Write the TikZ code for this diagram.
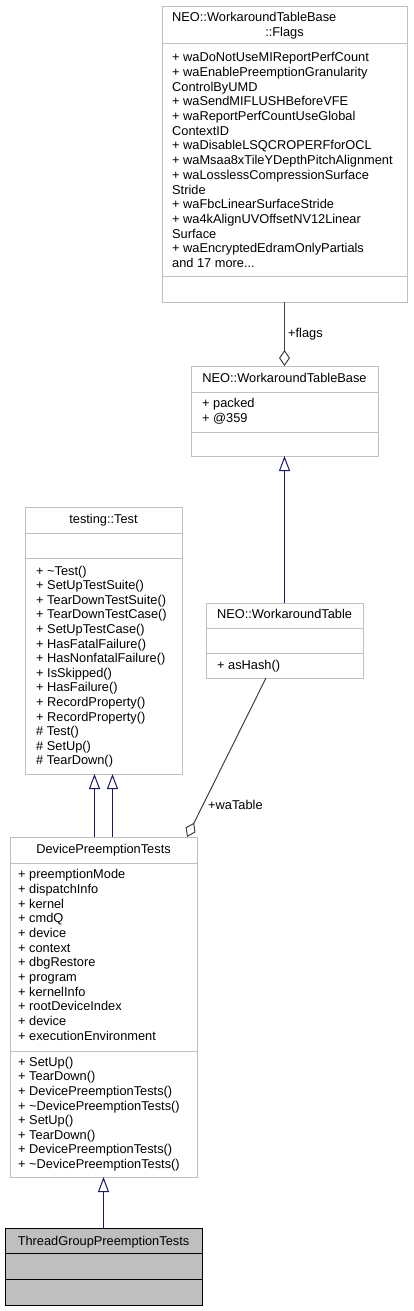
\documentclass[tikz,border=0pt]{standalone}
\usepackage{fontspec}
\setmainfont{Liberation Sans}
\usetikzlibrary{arrows.meta}
\definecolor{boxgray}{HTML}{BFBFBF}
\definecolor{inhblue}{HTML}{191970}
\definecolor{assocgray}{HTML}{404040}
\begin{document}
\begin{tikzpicture}[x=1pt,y=-1pt, font=\fontsize{12.8}{14.6}\selectfont,
 box/.style={draw=boxgray, line width=1pt, fill=white, anchor=north west, inner sep=0pt, outer sep=0pt},
 txt/.style={anchor=base west, inner sep=0pt},
 ttl/.style={anchor=base, inner sep=0pt},
 sep/.style={draw=boxgray, line width=1pt},
 inh/.style={draw=inhblue, line width=1pt, -{Triangle[open, length=15pt, width=11pt]}},
 assoc/.style={draw=assocgray, line width=1pt, -{Diamond[open, length=16pt, width=11pt]}},
]
\useasboundingbox (0,0) rectangle (413,1311);
\fill[white] (0,0) rectangle (413,1311);

% Flags
\node[box, minimum width=245pt, minimum height=295pt] (flags) at (162,7) {};
\draw[sep] (162,44) -- (407,44);
\draw[sep] (162,276) -- (407,276);
\node[txt] (ft1) at (172,21.6) {NEO::WorkaroundTableBase};
\node[ttl] (ft2) at (284.5,36.6) {::Flags};
\foreach \s [count=\i from 0] in {+ waDoNotUseMIReportPerfCount, + waEnablePreemptionGranularity, ControlByUMD, + waSendMIFLUSHBeforeVFE, + waReportPerfCountUseGlobal, ContextID, + waDisableLSQCROPERFforOCL, + waMsaa8xTileYDepthPitchAlignment, + waLosslessCompressionSurface, Stride, + waFbcLinearSurfaceStride, + wa4kAlignUVOffsetNV12Linear, Surface, + waEncryptedEdramOnlyPartials}
  \node[txt] (fa\i) at (172,61.6+14.72*\i) {\s};
\node[txt] (fmore) at (172,61.6+14.72*14) {and 17 more...};

% WorkaroundTableBase
\node[box, minimum width=187pt, minimum height=90pt] (base) at (191,366) {};
\draw[sep] (191,392) -- (378,392);
\draw[sep] (191,432) -- (378,432);
\node[ttl] (bt) at (284.5,382.6) {NEO::WorkaroundTableBase};
\node[txt] (ba0) at (202,407.6) {+ packed};
\node[txt] (ba1) at (202,422.3) {+ @359};

% testing::Test
\node[box, minimum width=157pt, minimum height=267pt] (test) at (25,507) {};
\draw[sep] (25,533) -- (182,533);
\draw[sep] (25,558) -- (182,558);
\node[ttl] (tt) at (103.5,523.3) {testing::Test};
\foreach \s [count=\i from 0] in {+ \textasciitilde Test(), + SetUpTestSuite(), + TearDownTestSuite(), + TearDownTestCase(), + SetUpTestCase(), + HasFatalFailure(), + HasNonfatalFailure(), + IsSkipped(), + HasFailure(), + RecordProperty(), + RecordProperty(), \# Test(), \# SetUp(), \# TearDown()}
  \node[txt] (tm\i) at (36,575+14.6*\i) {\s};

% WorkaroundTable
\node[box, minimum width=157pt, minimum height=75pt] (wt) at (206,603) {};
\draw[sep] (206,628) -- (363,628);
\draw[sep] (206,653) -- (363,653);
\node[ttl] (wtt) at (284.5,618.6) {NEO::WorkaroundTable};
\node[txt] (wtm) at (217,669.3) {+ asHash()};

% DevicePreemptionTests
\node[box, minimum width=187pt, minimum height=340pt] (dpt) at (10,837) {};
\draw[sep] (10,863) -- (197,863);
\draw[sep] (10,1051) -- (197,1051);
\node[ttl] (dt) at (103.5,853.6) {DevicePreemptionTests};
\foreach \s [count=\i from 0] in {+ preemptionMode, + dispatchInfo, + kernel, + cmdQ, + device, + context, + dbgRestore, + program, + kernelInfo, + rootDeviceIndex, + device, + executionEnvironment}
  \node[txt] (da\i) at (18,878.6+14.7*\i) {\s};
\foreach \s [count=\i from 0] in {+ SetUp(), + TearDown(), + DevicePreemptionTests(), + \textasciitilde DevicePreemptionTests(), + SetUp(), + TearDown(), + DevicePreemptionTests(), + \textasciitilde DevicePreemptionTests()}
  \node[txt] (dm\i) at (18,1066.3+14.57*\i) {\s};

% ThreadGroupPreemptionTests
\node[box, draw=black, fill=boxgray, minimum width=197pt, minimum height=77pt] (tg) at (5,1228) {};
\draw[line width=1pt, black] (5,1253) -- (202,1253);
\draw[line width=1pt, black] (5,1279) -- (202,1279);
\node[ttl] (tgt) at (103.5,1245) {ThreadGroupPreemptionTests};

% connectors
\draw[assoc] (flags.south) -- (base.north);
\draw[inh] (wt.north) -- (base.south);
\draw[inh] ([xshift=-9pt]dpt.north) -- ([xshift=-9pt]test.south);
\draw[inh] ([xshift=9pt]dpt.north) -- ([xshift=9pt]test.south);
\draw[inh] (tg.north) -- (dpt.south);
\draw[assoc] ([xshift=-18.5pt]wt.south) -- ([xshift=83.5pt]dpt.north);

% labels
\node[txt] (lflags) at (288,337) {+flags};
\node[txt] (lwa) at (208,809.3) {+waTable};
\end{tikzpicture}
\end{document}
